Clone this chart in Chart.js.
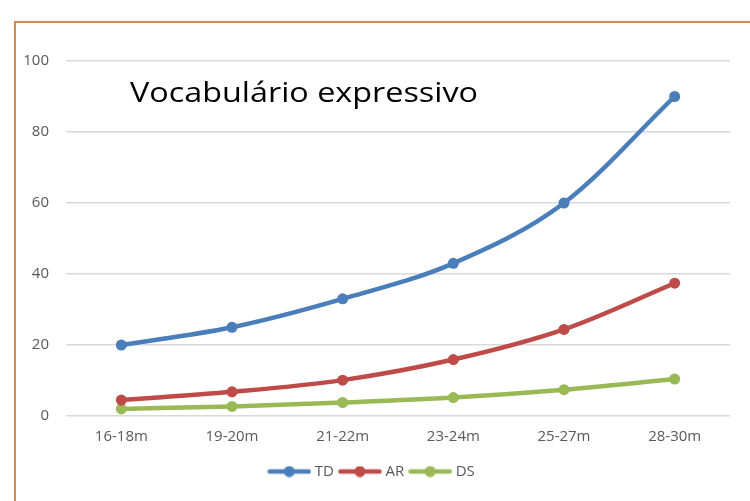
<!DOCTYPE html>
<html>
<head>
<meta charset="utf-8">
<script src="https://cdn.jsdelivr.net/npm/chart.js@4"></script>
<style>
  html, body { margin: 0; padding: 0; background: #fff; }
  #wrap { position: relative; width: 750px; height: 501px; }
  #frame { position: absolute; left: 14px; top: 21px; width: 760px; height: 500px;
           border-left: 2px solid #D6894A; border-top: 2px solid #D6894A; pointer-events: none; }
  canvas { position: absolute; left: 0; top: 0; }
</style>
</head>
<body>
<div id="wrap">
  <canvas id="c" width="750" height="501"></canvas>
  <div id="frame"></div>
</div>
<script>
const chartTitle = "Vocabulário expressivo";
const categories = ["16-18m", "19-20m", "21-22m", "23-24m", "25-27m", "28-30m"];
const seriesNames = ["TD", "AR", "DS"];
const tdValues = [20, 25, 33, 43, 60, 90];
const arValues = [4.5, 6.8, 10.1, 15.9, 24.4, 37.4];
const dsValues = [2.0, 2.7, 3.8, 5.2, 7.4, 10.4];
const yTicks = [0, 20, 40, 60, 80, 100];
const colors = ["#4A7EBB", "#BE4B48", "#98B954"];

function legendImage(color) {
  const cv = document.createElement("canvas");
  cv.width = 44; cv.height = 12;
  const g = cv.getContext("2d");
  g.strokeStyle = color; g.lineWidth = 4.5; g.lineCap = "round";
  g.beginPath(); g.moveTo(2.5, 6); g.lineTo(41.5, 6); g.stroke();
  g.fillStyle = color;
  g.beginPath(); g.arc(22, 6, 5.5, 0, Math.PI * 2); g.fill();
  return cv;
}

const titlePlugin = {
  id: "innerTitle",
  afterDraw(chart) {
    const ctx = chart.ctx;
    ctx.save();
    ctx.font = '28px "Open Sans", sans-serif';
    ctx.fillStyle = "#000";
    ctx.textBaseline = "alphabetic";
    ctx.textAlign = "left";
    const w = ctx.measureText(chartTitle).width;
    ctx.translate(130, 102);
    ctx.scale(348 / w, 1);
    ctx.fillText(chartTitle, 0, 0);
    ctx.restore();
  }
};

const allValues = [tdValues, arValues, dsValues];
new Chart(document.getElementById("c"), {
  type: "line",
  data: {
    labels: categories,
    datasets: seriesNames.map((n, i) => ({
      label: n,
      data: allValues[i],
      borderColor: colors[i],
      backgroundColor: colors[i],
      borderWidth: 4.5,
      pointRadius: 5.5,
      pointHoverRadius: 5.5,
      pointBackgroundColor: colors[i],
      pointBorderWidth: 0,
      cubicInterpolationMode: "monotone",
      fill: false
    }))
  },
  options: {
    responsive: false,
    animation: false,
    devicePixelRatio: 1,
    layout: { padding: { left: 16, right: 20, top: 61, bottom: 12 } },
    plugins: {
      tooltip: { enabled: false },
      title: { display: false },
      legend: {
        position: "bottom",
        labels: {
          usePointStyle: true,
          pointStyleWidth: 36,
          boxHeight: 12,
          padding: 8,
          color: "#595959",
          font: { family: '"Open Sans", sans-serif', size: 15 },
          generateLabels(chart) {
            return chart.data.datasets.map((d, i) => ({
              text: d.label,
              pointStyle: legendImage(colors[i]),
              fillStyle: colors[i],
              strokeStyle: colors[i],
              lineWidth: 0,
              fontColor: "#595959",
              hidden: false,
              datasetIndex: i
            }));
          }
        }
      }
    },
    scales: {
      x: {
        offset: true,
        grid: { display: false },
        border: { display: false },
        ticks: {
          color: "#595959",
          padding: 4,
          maxRotation: 0,
          font: { family: '"Open Sans", sans-serif', size: 15 }
        },
        afterFit(scale) { scale.height = 40; }
      },
      y: {
        min: 0, max: 100,
        afterBuildTicks(scale) { scale.ticks = yTicks.map(v => ({ value: v })); },
        grid: { color: "#D9D9D9", lineWidth: 1.5, drawTicks: false },
        border: { display: false },
        ticks: {
          color: "#595959",
          padding: 17,
          font: { family: '"Open Sans", sans-serif', size: 15 }
        },
        afterFit(scale) { scale.width = 50; }
      }
    }
  },
  plugins: [titlePlugin]
});
</script>
</body>
</html>
